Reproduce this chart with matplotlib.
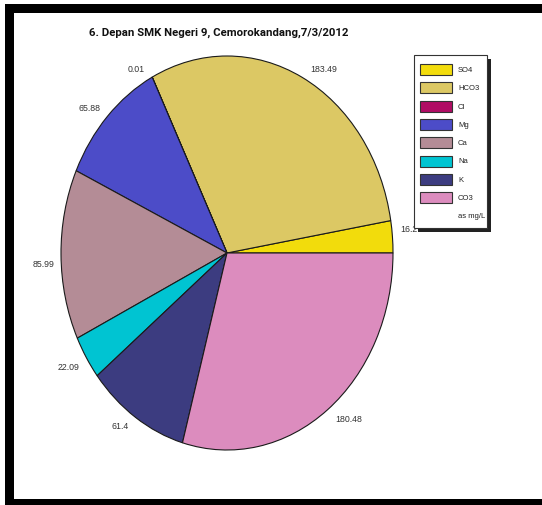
import numpy as np
import matplotlib
matplotlib.use("Agg")
import matplotlib.pyplot as plt
from matplotlib.patches import Rectangle

# ion concentrations, mg/L
ions = ['SO4', 'HCO3', 'Cl', 'Mg', 'Ca', 'Na', 'K', 'CO3']
values = [16.2, 183.49, 0.01, 65.88, 85.99, 22.09, 61.4, 180.48]
value_labels = ['16.2', '183.49', '0.01', '65.88', '85.99', '22.09', '61.4', '180.48']
colors = ['#F2DC0C', '#DCC864', '#B00C64', '#4C4CC8', '#B48C96',
          '#00C4D2', '#3C3C80', '#DC8CBE']
title = '6. Depan SMK Negeri 9, Cemorokandang,7/3/2012'
unit_note = 'as mg/L'

W, H = 542, 506
title_font = ['Roboto', 'Liberation Sans', 'DejaVu Sans']
plain = ['Liberation Sans', 'DejaVu Sans']

fig = plt.figure(figsize=(W / 100, H / 100), dpi=100)


def px(x, y):
    return x / W, 1 - y / H


# elliptical pie: centre (227, 254) px, radii 166 x 197 px
cx, cy, rx, ry = 227, 254, 166, 197
xl, yl = 1.3, 1.2
ax = fig.add_axes([(cx - xl * rx) / W, ((H - cy) - yl * ry) / H,
                   2 * xl * rx / W, 2 * yl * ry / H])
wedges, _ = ax.pie(values, colors=colors, startangle=0, counterclock=True,
                   wedgeprops=dict(edgecolor='#1a1a1a', linewidth=0.8))
ax.set_aspect('auto')
ax.set_xlim(-xl, xl)
ax.set_ylim(-yl, yl)
ax.axis('off')

for w, lab in zip(wedges, value_labels):
    mid = np.deg2rad((w.theta1 + w.theta2) / 2)
    x, y = np.cos(mid), np.sin(mid)
    right = x >= 0
    upper = y >= 0
    ax.annotate(lab, (x, y), xytext=(8 if right else -7, 4 if upper else -4),
                textcoords='offset pixels', ha='left' if right else 'right',
                va='bottom' if upper else 'top', fontsize=6.3, color='#333333',
                family=plain, annotation_clip=False)

# title
fig.text(*px(219, 33), title, ha='center', va='center', fontsize=8.2,
         fontweight='bold', family=title_font, color='#111111')

# legend box with shadow
lx0, ly0, lx1, ly1 = 414, 56, 487, 229
fig.patches.append(Rectangle(px(lx0 + 4, ly1 + 4), (lx1 - lx0) / W, (ly1 - ly0) / H,
                             transform=fig.transFigure, facecolor='#222222',
                             edgecolor='none', zorder=5))
fig.patches.append(Rectangle(px(lx0, ly1), (lx1 - lx0) / W, (ly1 - ly0) / H,
                             transform=fig.transFigure, facecolor='white',
                             edgecolor='#333333', linewidth=0.8, zorder=6))
for i, (name, c) in enumerate(zip(ions, colors)):
    top = 65 + i * 18.3
    fig.patches.append(Rectangle(px(420, top + 11), 32 / W, 11 / H,
                                 transform=fig.transFigure, facecolor=c,
                                 edgecolor='#333333', linewidth=0.8, zorder=7))
    fig.text(*px(458, top + 5.5), name, ha='left', va='center', fontsize=5.5,
             family=plain, color='#222222', zorder=8)
fig.text(*px(458, 217), unit_note, ha='left', va='center', fontsize=5.5,
         family=plain, color='#222222', zorder=8)

# thick black frame (top, left, bottom)
for x0, y0, x1, y1 in [(5, 5, W, 14), (5, 5, 14, H), (5, 500, W, H)]:
    fig.patches.append(Rectangle(px(x0, y1), (x1 - x0) / W, (y1 - y0) / H,
                                 transform=fig.transFigure, facecolor='black',
                                 edgecolor='none', zorder=10))

fig.savefig('out.png', dpi=100)
